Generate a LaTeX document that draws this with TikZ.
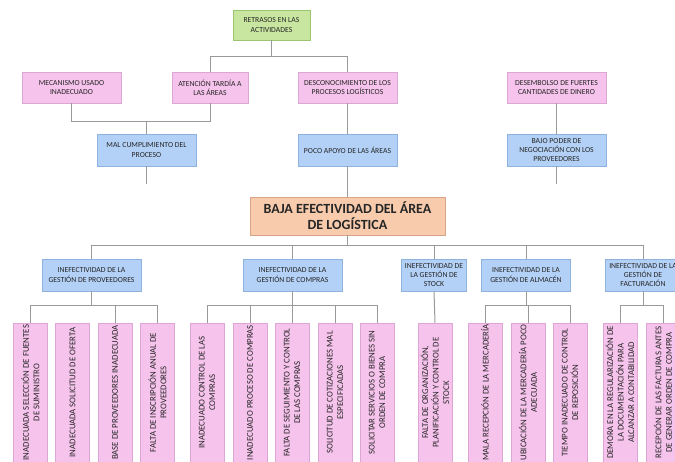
\documentclass[tikz,border=0pt]{standalone}
\usepackage{fontspec}
\setmainfont{Carlito}
\definecolor{pinkfill}{HTML}{F6C3EC}
\definecolor{pinkline}{HTML}{DDA6D4}
\definecolor{bluefill}{HTML}{B3D1F6}
\definecolor{blueline}{HTML}{8EB2DE}
\definecolor{greenfill}{HTML}{C8E6A0}
\definecolor{greenline}{HTML}{9DC470}
\definecolor{peachfill}{HTML}{F8CBAD}
\definecolor{peachline}{HTML}{D9A487}
\definecolor{wire}{HTML}{999999}
\definecolor{ink}{HTML}{262626}
% vertical label inside the narrow cause boxes
\newcommand\vlab[1]{\rotatebox{90}{\parbox{138pt}{\centering\fontsize{8.8}{10.5}\selectfont #1}}}
\tikzset{
  box/.style={draw, line width=0.5pt, inner sep=1pt, align=center, text=ink,
              font=\fontsize{7.7}{9.3}\selectfont},
  pinkbox/.style={box, fill=pinkfill, draw=pinkline},
  bluebox/.style={box, fill=bluefill, draw=blueline},
  greenbox/.style={box, fill=greenfill, draw=greenline},
  mainbox/.style={box, fill=peachfill, draw=peachline,
                  font=\fontsize{14}{16}\selectfont\bfseries},
  topw/.style={minimum width=99pt, minimum height=31pt},
  midw/.style={minimum height=32pt},
  cause/.style={pinkbox, inner sep=0pt, minimum width=34pt, minimum height=139pt},
  wireline/.style={draw=wire, line width=1pt},
}
\begin{document}
\begin{tikzpicture}[x=1pt, y=-1pt]
\useasboundingbox (0,0) rectangle (675,462);
\begin{scope}
\clip (0,0) rectangle (675,462);

% ---- upper tree: effects ----
\node[greenbox, minimum width=77pt, minimum height=30pt] (ret) at (271.5,25) {RETRASOS EN LAS\\ACTIVIDADES};

\node[pinkbox, topw] (mec) at (71.5,87.5) {MECANISMO USADO\\INADECUADO};
\node[pinkbox, topw, minimum width=76pt] (ate) at (210,87.5) {ATENCIÓN TARDÍA A\\LAS ÁREAS};
\node[pinkbox, topw] (des) at (347.5,87.5) {DESCONOCIMIENTO DE LOS\\PROCESOS LOGÍSTICOS};
\node[pinkbox, topw] (dsm) at (556.5,87.5) {DESEMBOLSO DE FUERTES\\CANTIDADES DE DINERO};

\node[bluebox, topw, midw] (mal) at (146.5,150) {MAL CUMPLIMIENTO DEL\\PROCESO};
\node[bluebox, topw, midw] (poc) at (347.5,150) {POCO APOYO DE LAS ÁREAS};
\node[bluebox, topw, midw] (baj) at (556.5,150) {BAJO PODER DE\\NEGOCIACIÓN CON LOS\\PROVEEDORES};

% ---- central problem ----
\node[mainbox, minimum width=195pt, minimum height=38pt] (main) at (347.5,216) {BAJA EFECTIVIDAD DEL ÁREA\\DE LOGÍSTICA};

% ---- second level: causes ----
\node[bluebox, midw, minimum width=99pt] (prov) at (91.5,275) {INEFECTIVIDAD DE LA\\GESTIÓN DE PROVEEDORES};
\node[bluebox, midw, minimum width=99pt] (comp) at (292.5,275) {INEFECTIVIDAD DE LA\\GESTIÓN DE COMPRAS};
\node[bluebox, midw, minimum width=65pt] (stk) at (434,275) {INEFECTIVIDAD DE\\LA GESTIÓN DE\\STOCK};
\node[bluebox, midw, minimum width=89pt] (alm) at (526,275) {INEFECTIVIDAD DE LA\\GESTIÓN DE ALMACÉN};
\node[bluebox, midw, minimum width=76pt] (fac) at (643,275) {INEFECTIVIDAD DE LA\\GESTIÓN DE\\FACTURACIÓN};

% ---- third level: root causes ----
\node[cause] (p1) at (30.5,392.5) {\vlab{INADECUADA SELECCIÓN DE FUENTES\\DE SUMINISTRO}};
\node[cause] (p2) at (72.5,392.5) {\vlab{INADECUADA SOLICITUD DE OFERTA}};
\node[cause] (p3) at (115,392.5) {\vlab{BASE DE PROVEEDORES INADECUADA}};
\node[cause] (p4) at (157.5,392.5) {\vlab{FALTA DE INSCRIPCIÓN ANUAL DE\\PROVEEDORES}};

\node[cause] (c1) at (207,392.5) {\vlab{INADECUADO CONTROL DE LAS\\COMPRAS}};
\node[cause] (c2) at (250,392.5) {\vlab{INADECUADO PROCESO DE COMPRAS}};
\node[cause] (c3) at (292,392.5) {\vlab{FALTA DE SEGUIMIENTO Y CONTROL\\DE LAS COMPRAS}};
\node[cause] (c4) at (335,392.5) {\vlab{SOLICITUD DE COTIZACIONES MAL\\ESPECIFICADAS}};
\node[cause] (c5) at (377,392.5) {\vlab{SOLICITAR SERVICIOS O BIENES SIN\\ORDEN DE COMPRA}};

\node[cause] (s1) at (435,392.5) {\vlab{FALTA DE ORGANIZACIÓN,\\PLANIFICACIÓN Y CONTROL DE\\STOCK}};

\node[cause] (a1) at (485,392.5) {\vlab{MALA RECEPCIÓN DE LA MERCADERÍA}};
\node[cause] (a2) at (528,392.5) {\vlab{UBICACIÓN DE LA MERCADERÍA POCO\\ADECUADA}};
\node[cause] (a3) at (570,392.5) {\vlab{TIEMPO INADECUADO DE CONTROL\\DE REPOSICIÓN}};

\node[cause] (f1) at (620,392.5) {\vlab{DEMORA EN LA REGULARIZACIÓN DE\\LA DOCUMENTACIÓN PARA\\ALCANZAR A CONTABILIDAD}};
\node[cause] (f2) at (663,392.5) {\vlab{RECEPCIÓN DE LAS FACTURAS ANTES\\DE GENERAR ORDEN DE COMPRA}};

% ---- bus levels ----
\coordinate (bA) at (0,57);
\coordinate (bB) at (0,122);
\coordinate (bC) at (0,184);
\coordinate (bD) at (0,246);
\coordinate (bE) at (0,306);

% ---- connectors ----
\path[wireline] (ret.south) -- (ret.south |- bA);
\path[wireline] (ate.north) -- (ate.north |- bA) -- (des.north |- bA) -- (des.north);

\path[wireline] (mec.south) -- (mec.south |- bB) -- (ate.south |- bB) -- (ate.south);
\path[wireline] (mal.north) -- (mal.north |- bB);
\path[wireline] (des.south) -- (poc.north);
\path[wireline] (dsm.south) -- (baj.north);

\path[wireline] (mal.south) -- (mal.south |- bC);
\path[wireline] (baj.south) -- (baj.south |- bC);
\path[wireline] (poc.south) -- (main.north);

\path[wireline] (main.south) -- (main.south |- bD);
\path[wireline] (prov.north) -- (prov.north |- bD) -- (fac.north |- bD) -- (fac.north);
\path[wireline] (comp.north) -- (comp.north |- bD);
\path[wireline] (stk.north) -- (stk.north |- bD);
\path[wireline] (alm.north) -- (alm.north |- bD);

\path[wireline] (prov.south) -- (prov.south |- bE);
\path[wireline] (p1.north) -- (p1.north |- bE) -- (p4.north |- bE) -- (p4.north);
\path[wireline] (p3.north) -- (p3.north |- bE);

\path[wireline] (comp.south) -- (comp.south |- bE);
\path[wireline] (c1.north) -- (c1.north |- bE) -- (c5.north |- bE) -- (c5.north);
\path[wireline] (c2.north) -- (c2.north |- bE);
\path[wireline] (c3.north) -- (c3.north |- bE);
\path[wireline] (c4.north) -- (c4.north |- bE);

\path[wireline] (stk.south) -- (s1.north);

\path[wireline] (alm.south) -- (alm.south |- bE);
\path[wireline] (a1.north) -- (a1.north |- bE) -- (a3.north |- bE) -- (a3.north);
\path[wireline] (a2.north) -- (a2.north |- bE);

\path[wireline] (fac.south) -- (fac.south |- bE);
\path[wireline] (f1.north) -- (f1.north |- bE) -- (f2.north |- bE) -- (f2.north);
\end{scope}
\end{tikzpicture}
\end{document}
